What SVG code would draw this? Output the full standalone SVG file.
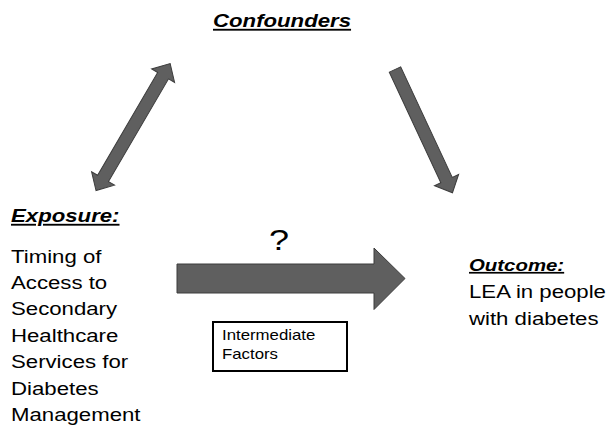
<svg xmlns="http://www.w3.org/2000/svg" width="607" height="429" viewBox="0 0 607 429">
<style>
.t{font-family:"Liberation Sans",Arial,sans-serif;fill:#000}
.h{font-weight:bold;font-style:italic;text-decoration:underline}
.arr{fill:#5f5f5f;stroke:#3c3c3c;stroke-width:1}
</style>
<rect width="607" height="429" fill="#fff"/>
<g id="confounders">
<text class="t h" font-size="18.5" transform="translate(213,27) scale(1.2,1)">Confounders</text>
</g>
<g id="exposure">
<text class="t h" font-size="18.5" transform="translate(11,222) scale(1.2,1)">Exposure:</text>
<text class="t" font-size="18.5" transform="translate(11,262.7) scale(1.2,1)"><tspan x="0" y="0">Timing of</tspan><tspan x="0" y="26.4">Access to</tspan><tspan x="0" y="52.8">Secondary</tspan><tspan x="0" y="79.2">Healthcare</tspan><tspan x="0" y="105.6">Services for</tspan><tspan x="0" y="132">Diabetes</tspan><tspan x="0" y="158.4">Management</tspan></text>
</g>
<g id="outcome">
<text class="t h" font-size="17" transform="translate(469,271) scale(1.2,1)">Outcome:</text>
<text class="t" font-size="18.5" transform="translate(469,298) scale(1.2,1)"><tspan x="0" y="0">LEA in people</tspan><tspan x="0" y="27">with diabetes</tspan></text>
</g>
<g id="intermediate">
<rect x="213" y="322" width="134" height="49" fill="#fff" stroke="#000" stroke-width="2"/>
<text class="t" font-size="14" transform="translate(222,340) scale(1.2,1)"><tspan x="0" y="0">Intermediate</tspan><tspan x="0" y="19">Factors</tspan></text>
</g>
<g id="question">
<text class="t" font-size="30" text-anchor="middle" transform="translate(279,250) scale(1.2,1)">?</text>
</g>
<g id="connectors">
<polygon class="arr" transform="translate(96,190.5) rotate(-59.7)" points="0,0 14,-13.3 14,-6.3 133,-6.3 133,-13.3 147,0 133,13.3 133,6.3 14,6.3 14,13.3"/>
<polygon class="arr" transform="translate(395,69.5) rotate(65)" points="0,-6.3 122,-6.3 122,-13.3 136,0 122,13.3 122,6.3 0,6.3"/>
<polygon class="arr" points="177,264 374,264 374,248 405,278.5 374,309.5 374,293 177,293"/>
</g>
</svg>
